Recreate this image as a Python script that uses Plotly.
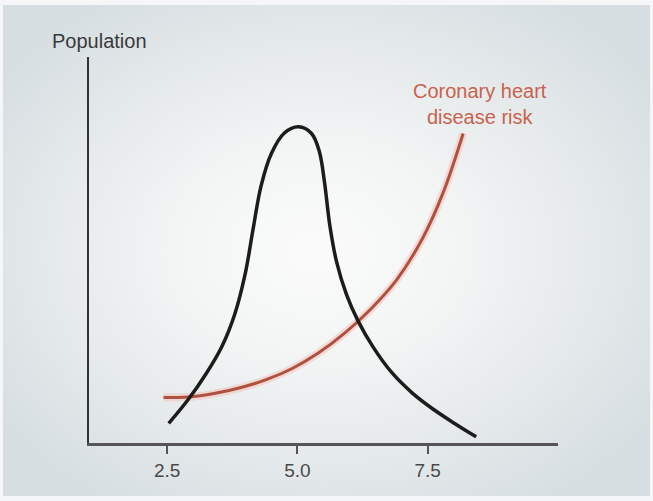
import base64
import plotly.graph_objects as go

# Serum cholesterol (mmol/L) on the x axis
pop_x = [2.53, 2.90, 3.25, 3.55, 3.80, 4.00, 4.15, 4.30, 4.50, 4.75, 5.02,
         5.27, 5.42, 5.52, 5.62, 5.75, 5.94, 6.16, 6.45, 6.80, 7.20, 7.60, 8.00, 8.43]
pop_y = [0.51, 1.12, 1.80, 2.50, 3.35, 4.40, 5.55, 6.65, 7.50, 8.03, 8.19,
         8.02, 7.55, 6.75, 5.65, 4.70, 3.85, 3.17, 2.49, 1.84, 1.30, 0.88, 0.52, 0.16]

risk_x = [2.43, 2.90, 3.40, 3.90, 4.40, 4.90, 5.40, 5.90, 6.40, 6.90, 7.40, 7.80, 8.18]
risk_y = [1.18, 1.19, 1.28, 1.43, 1.64, 1.93, 2.33, 2.84, 3.46, 4.22, 5.30, 6.50, 8.02]

tick_vals = [2.5, 5.0, 7.5]
tick_text = ["2.5", "5.0", "7.5"]

W, H = 653, 501
ML, MR, MT, MB = 89, 95, 57, 58
PW, PH = W - ML - MR, H - MT - MB

FONT = "Liberation Sans, Arial, sans-serif"

# soft radial backdrop
svg = f'''<svg xmlns="http://www.w3.org/2000/svg" width="{W}" height="{H}" viewBox="0 0 {W} {H}">
<defs><radialGradient id="g" cx="0.5" cy="0.5" r="0.62" fx="0.48" fy="0.5">
<stop offset="0" stop-color="#fbfbfb"/>
<stop offset="0.35" stop-color="#f3f5f5"/>
<stop offset="0.75" stop-color="#e2e7e9"/>
<stop offset="1" stop-color="#d6dee1"/>
</radialGradient></defs>
<rect width="{W}" height="{H}" fill="#f4f6f7"/>
<rect x="3" y="5" width="{W-6}" height="{H-10}" fill="url(#g)"/>
</svg>'''
bg_uri = "data:image/svg+xml;base64," + base64.b64encode(svg.encode()).decode()

fig = go.Figure()
fig.add_trace(go.Scatter(
    x=risk_x, y=risk_y, mode="lines",
    line=dict(color="#f2c4bd", width=8, shape="spline", smoothing=1.0),
    hoverinfo="skip", showlegend=False, opacity=0.55))
fig.add_trace(go.Scatter(
    x=risk_x, y=risk_y, mode="lines", name="Coronary heart disease risk",
    line=dict(color="#b0503f", width=3, shape="spline", smoothing=1.0),
    showlegend=False))
fig.add_trace(go.Scatter(
    x=pop_x, y=pop_y, mode="lines", name="Population",
    line=dict(color="#1c1c1c", width=3.5, shape="spline", smoothing=1.0),
    showlegend=False))

fig.add_annotation(x=1.2, y=(443 - 41) / PH, xref="x", yref="paper",
                   xanchor="center", yanchor="middle",
                   text="Population", showarrow=False,
                   font=dict(family=FONT, size=20, color="#3a3a3a"))
fig.add_annotation(x=8.5, y=8.78, xref="x", yref="y",
                   xanchor="center", yanchor="middle",
                   text="Coronary heart<br>disease risk", showarrow=False,
                   font=dict(family=FONT, size=20, color="#c9624c"))

fig.update_layout(
    width=W, height=H,
    margin=dict(l=ML, r=MR, t=MT, b=MB, pad=0),
    paper_bgcolor="#ffffff",
    plot_bgcolor="rgba(0,0,0,0)",
    images=[dict(source=bg_uri, xref="paper", yref="paper",
                 x=-ML / PW, y=1 + MT / PH, sizex=W / PW, sizey=H / PH,
                 sizing="stretch", xanchor="left", yanchor="top", layer="below")],
    xaxis=dict(range=[1, 10], showgrid=False, zeroline=False,
               showline=True, linecolor="#555555", linewidth=3,
               ticks="outside", ticklen=8, tickwidth=2, tickcolor="#555555",
               tickvals=tick_vals, ticktext=tick_text,
               tickfont=dict(family=FONT, size=19, color="#4a4a4a")),
    yaxis=dict(range=[0, 10], showgrid=False, zeroline=False,
               showline=True, linecolor="#333333", linewidth=2,
               showticklabels=False, ticks=""),
)

fig.write_html("out.html")
